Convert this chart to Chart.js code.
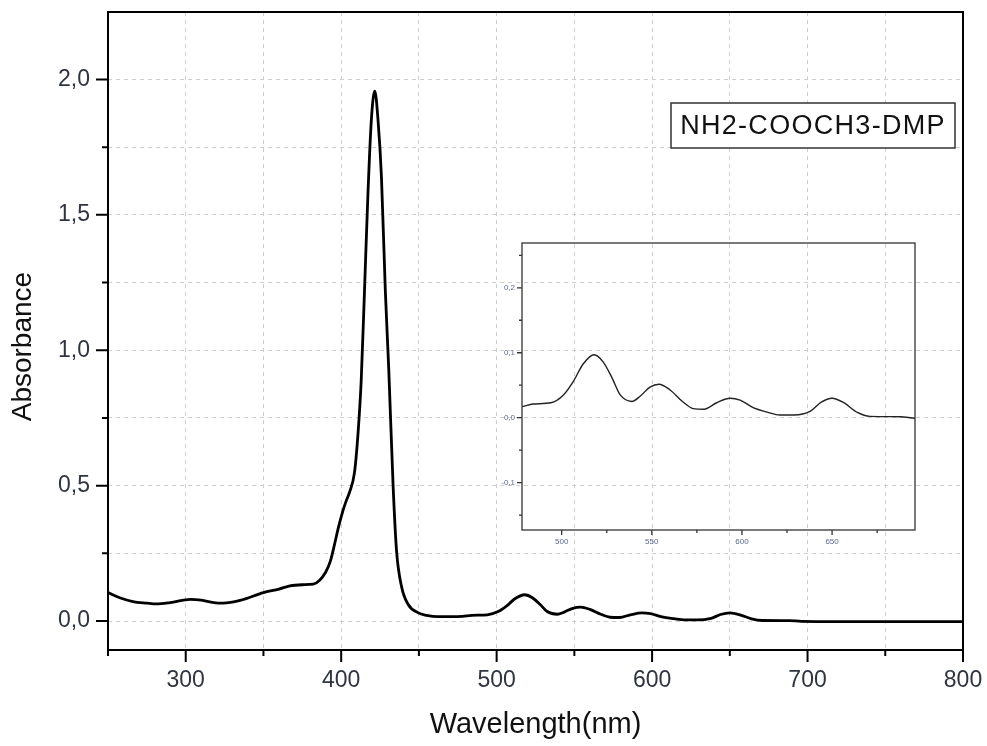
<!DOCTYPE html>
<html>
<head>
<meta charset="utf-8">
<script src="https://cdn.jsdelivr.net/npm/chart.js@4.4.0/dist/chart.umd.min.js"></script>
<style>
  html, body { margin: 0; padding: 0; background: #fff; }
  #wrap { position: relative; width: 987px; height: 746px; }
  #main { position: absolute; left: 0; top: 0; }
  #inset { position: absolute; left: 482px; top: 235px; }
</style>
</head>
<body>
<div id="wrap">
  <canvas id="main" width="987" height="746"></canvas>
  <canvas id="inset" width="440" height="320"></canvas>
</div>
<script>
// spectrum
const wavelength = [250, 258, 266, 275, 281, 290, 303, 310, 318, 324, 335, 350, 360, 367, 375, 382, 386, 390, 393, 396, 398, 401, 403, 405.4, 408.6, 410.8, 412.9, 415, 417.2, 419.4, 421.6, 423.7, 425.9, 428.4, 430.6, 433.4, 435.6, 438.8, 443, 449.6, 455, 462, 470, 478, 484, 494, 501, 506.5, 512, 518, 523, 528, 532.5, 539, 543.5, 549, 554, 560, 567, 573, 579, 586, 593.5, 599, 606.5, 614, 621, 629, 638, 644, 650, 656.5, 664, 671, 688, 696, 720, 760, 800]
const absorbance = [0.105, 0.085, 0.072, 0.066, 0.063, 0.068, 0.08, 0.077, 0.068, 0.066, 0.076, 0.105, 0.118, 0.13, 0.134, 0.136, 0.15, 0.18, 0.22, 0.29, 0.34, 0.405, 0.44, 0.476, 0.55, 0.69, 0.89, 1.22, 1.575, 1.85, 1.957, 1.85, 1.64, 1.22, 0.93, 0.5, 0.26, 0.128, 0.062, 0.03, 0.021, 0.016, 0.016, 0.017, 0.021, 0.023, 0.035, 0.056, 0.083, 0.097, 0.086, 0.061, 0.035, 0.025, 0.033, 0.047, 0.0515, 0.043, 0.025, 0.014, 0.013, 0.023, 0.03, 0.027, 0.015, 0.0086, 0.004, 0.004, 0.01, 0.024, 0.03, 0.023, 0.008, 0.002, 0.0015, -0.001, -0.002, -0.002, -0.002]

// main axes
const xTicks = [250, 300, 350, 400, 450, 500, 550, 600, 650, 700, 750, 800]
const xMajor = [300, 400, 500, 600, 700, 800]
const xMinor = [250, 350, 450, 550, 650, 750]
const yTicks = [0, 0.25, 0.5, 0.75, 1, 1.25, 1.5, 1.75, 2]
const yMajor = [0, 0.5, 1, 1.5, 2]
const yMinor = [0.25, 0.75, 1.25, 1.75]

// inset axes
const insetXMajor = [500, 550, 600, 650]
const insetXMinor = [525, 575, 625, 675]
const insetYMajor = [-0.1, 0, 0.1, 0.2]
const insetYMinor = [-0.15, -0.05, 0.05, 0.15, 0.25]

const labelText = 'NH2-COOCH3-DMP'
const FONT = '"Liberation Sans", Arial, sans-serif'

const points = wavelength.map((x, i) => ({ x, y: absorbance[i] }))
const comma = v => v.toFixed(1).replace('.', ',')

// keep the plot area exactly where the layout padding puts it
const fitX = h => s => { s.height = h; s.paddingLeft = 0; s.paddingRight = 0 }
const fitY = w => s => { s.width = w; s.paddingTop = 0; s.paddingBottom = 0 }

// tick marks (major / minor) and the closed frame
const frameTicks = {
  id: 'frameTicks',
  afterDraw (chart, args, o) {
    const { ctx, chartArea: a, scales: { x, y } } = chart
    ctx.save()
    ctx.strokeStyle = o.color
    ctx.lineWidth = o.width
    ctx.beginPath()
    o.xMajor.forEach(v => { const p = x.getPixelForValue(v); ctx.moveTo(p, a.bottom); ctx.lineTo(p, a.bottom + o.major) })
    o.xMinor.forEach(v => { const p = x.getPixelForValue(v); ctx.moveTo(p, a.bottom); ctx.lineTo(p, a.bottom + o.minor) })
    o.yMajor.forEach(v => { const p = y.getPixelForValue(v); ctx.moveTo(a.left, p); ctx.lineTo(a.left - o.major, p) })
    o.yMinor.forEach(v => { const p = y.getPixelForValue(v); ctx.moveTo(a.left, p); ctx.lineTo(a.left - o.minor, p) })
    ctx.stroke()
    ctx.strokeRect(a.left, a.top, a.width, a.height)
    ctx.restore()
  }
}

// boxed sample name
const nameBox = {
  id: 'nameBox',
  afterDraw (chart) {
    const { ctx, chartArea: a } = chart
    const right = a.right - 8
    const left = right - 284
    const top = a.top + 91
    const h = 45
    ctx.save()
    ctx.fillStyle = '#fff'
    ctx.fillRect(left, top, right - left, h)
    ctx.strokeStyle = '#333'
    ctx.lineWidth = 1.5
    ctx.strokeRect(left, top, right - left, h)
    ctx.fillStyle = '#111'
    ctx.font = '27px ' + FONT
    ctx.letterSpacing = '1.3px'
    ctx.textAlign = 'center'
    ctx.textBaseline = 'middle'
    ctx.fillText(labelText, (left + right) / 2, top + h / 2 + 1)
    ctx.restore()
  }
}

new Chart(document.getElementById('main'), {
  type: 'line',
  data: {
    datasets: [{
      data: points,
      borderColor: '#000',
      borderWidth: 2.8,
      pointRadius: 0,
      fill: false,
      cubicInterpolationMode: 'monotone'
    }]
  },
  options: {
    responsive: false,
    animation: false,
    events: [],
    layout: { padding: { top: 12, right: 24, left: 0, bottom: 0 } },
    plugins: {
      legend: { display: false },
      tooltip: { enabled: false },
      frameTicks: { color: '#000', width: 2, major: 12, minor: 6, xMajor, xMinor, yMajor, yMinor }
    },
    scales: {
      x: {
        type: 'linear',
        min: 250,
        max: 800,
        afterFit: fitX(96),
        afterBuildTicks: s => { s.ticks = xTicks.map(v => ({ value: v })) },
        ticks: {
          autoSkip: false,
          maxRotation: 0,
          padding: 17,
          color: '#2e3440',
          font: { family: FONT, size: 23 },
          callback: v => (v % 100 === 0 ? String(v) : '')
        },
        grid: {
          drawTicks: false,
          color: c => (c.tick && (c.tick.value === 250 || c.tick.value === 800) ? 'rgba(0,0,0,0)' : '#cfcfcf'),
          lineWidth: 1
        },
        border: { display: false, dash: [4, 4] },
        title: {
          display: true,
          text: 'Wavelength(nm)',
          color: '#111',
          font: { family: FONT, size: 29 },
          padding: { top: 0, bottom: 4 }
        }
      },
      y: {
        type: 'linear',
        min: -0.107,
        max: 2.249,
        afterFit: fitY(108),
        afterBuildTicks: s => { s.ticks = yTicks.map(v => ({ value: v })) },
        ticks: {
          autoSkip: false,
          padding: 18,
          color: '#2e3440',
          font: { family: FONT, size: 23 },
          callback: v => (yMajor.includes(v) ? comma(v) : '')
        },
        grid: { drawTicks: false, color: '#cfcfcf', lineWidth: 1 },
        border: { display: false, dash: [4, 4] },
        title: {
          display: true,
          text: 'Absorbance    ',
          color: '#111',
          font: { family: FONT, size: 28 },
          padding: { top: 6, bottom: 0 }
        }
      }
    }
  },
  plugins: [frameTicks, nameBox]
})

// inset: zoom on the Q bands
new Chart(document.getElementById('inset'), {
  type: 'line',
  data: {
    datasets: [{
      data: points,
      borderColor: '#222',
      borderWidth: 1.4,
      pointRadius: 0,
      fill: false,
      cubicInterpolationMode: 'monotone'
    }]
  },
  options: {
    responsive: false,
    animation: false,
    events: [],
    layout: { padding: { top: 8, right: 7, left: 0, bottom: 0 } },
    plugins: {
      legend: { display: false },
      tooltip: { enabled: false },
      frameTicks: { color: '#333', width: 1.3, major: 5, minor: 3, xMajor: insetXMajor, xMinor: insetXMinor, yMajor: insetYMajor, yMinor: insetYMinor }
    },
    scales: {
      x: {
        type: 'linear',
        min: 478,
        max: 696,
        afterFit: fitX(25),
        afterBuildTicks: s => { s.ticks = insetXMajor.map(v => ({ value: v })) },
        ticks: { autoSkip: false, maxRotation: 0, padding: 7, color: '#5a6a95', font: { family: FONT, size: 8 } },
        grid: { display: false, drawTicks: false },
        border: { display: false }
      },
      y: {
        type: 'linear',
        min: -0.173,
        max: 0.269,
        afterFit: fitY(40),
        afterBuildTicks: s => { s.ticks = insetYMajor.map(v => ({ value: v })) },
        ticks: { autoSkip: false, padding: 7, color: '#5a6a95', font: { family: FONT, size: 8 }, callback: v => comma(v) },
        grid: { display: false, drawTicks: false },
        border: { display: false }
      }
    }
  },
  plugins: [frameTicks]
})
</script>
</body>
</html>
